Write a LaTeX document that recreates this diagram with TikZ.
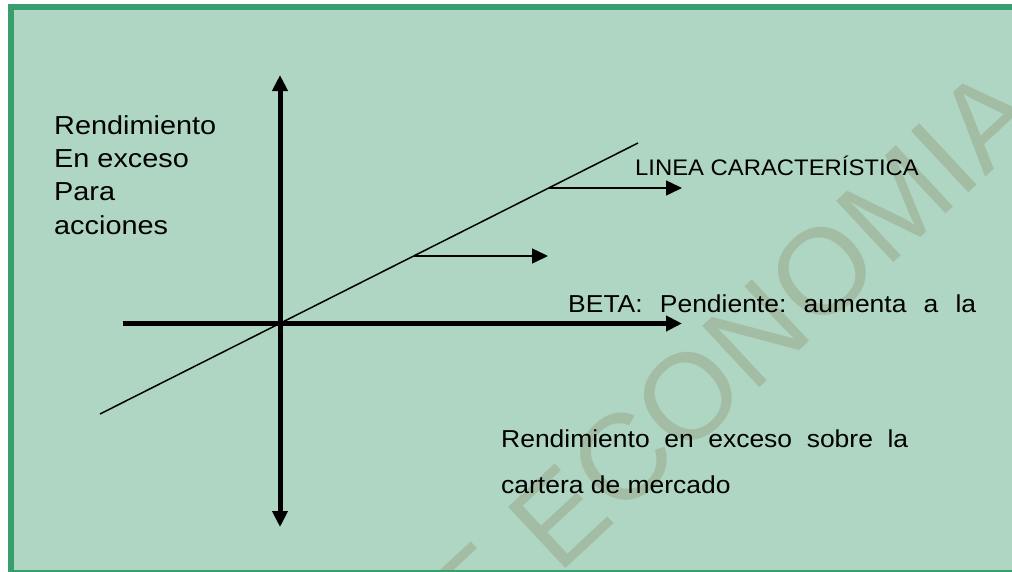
\documentclass[tikz,border=0pt]{standalone}
\usepackage{fontspec}
\usepackage{graphicx}
\setmainfont{Liberation Sans}
\usetikzlibrary{arrows.meta}
\definecolor{bgfill}{RGB}{175,214,195}
\definecolor{framecol}{RGB}{56,158,110}
\definecolor{wmcol}{RGB}{163,189,165}
\tikzset{
  axis/.style={line width=5pt, -{Triangle[length=16pt,width=15pt]}},
  axisboth/.style={line width=5pt, {Triangle[length=16pt,width=15pt]}-{Triangle[length=16pt,width=15pt]}},
  thinarrow/.style={line width=1.5pt, -{Triangle[length=16pt,width=15pt]}},
  charline/.style={line width=1.5pt},
  lbl/.style={inner sep=0pt, anchor=base west, text=black},
  wmark/.style={inner sep=0pt, text=wmcol, font=\fontsize{122}{130}\selectfont}
}
\newcommand\bigtxt[1]{\fontsize{26}{30}\selectfont\scalebox{1.11}[1]{#1}}
\newcommand\midtxt[1]{\fontsize{24.5}{29}\selectfont\scalebox{1.08}[1]{#1}}
\frenchspacing
\begin{document}
\begin{tikzpicture}[x=1pt,y=-1pt]
\useasboundingbox (0,0) rectangle (1012,571);
% background frame
\fill[bgfill] (8.3,4) rectangle (1030,580);
\draw[framecol, line width=6pt] (11.3,7) rectangle (1025,572.5);
% watermark
\begin{scope}
  \clip (14.3,10) rectangle (1012,569.3);
  \node[wmark, rotate=43] (wm) at (731,357) {E ECONOMIA};
\end{scope}
% coordinates
\coordinate (ytop) at (280,75);
\coordinate (ybot) at (280,527);
\coordinate (xl) at (123,323.5);
\coordinate (xr) at (682,323.5);
\coordinate (cl) at (100,414);
\coordinate (ch) at (638,143);
\coordinate (a1s) at (549,188);
\coordinate (a1e) at (682,188);
\coordinate (a2s) at (414,256);
\coordinate (a2e) at (548,256);
% axes
\draw[axisboth] (ybot) -- (ytop);
\draw[axis] (xl) -- (xr);
% characteristic line
\draw[charline] (cl) -- (ch);
\draw[thinarrow] (a1s) -- (a1e);
\draw[thinarrow] (a2s) -- (a2e);
% labels
\node[lbl] (l1) at (54,134) {\bigtxt{Rendimiento}};
\node[lbl] (l2) at (54,167.3) {\bigtxt{En exceso}};
\node[lbl] (l3) at (54,200.7) {\bigtxt{Para}};
\node[lbl] (l4) at (54,234) {\bigtxt{acciones}};
\node[lbl] (lc) at (635,175) {\fontsize{22.5}{27}\selectfont\scalebox{1.06}[1]{LINEA CARACTERÍSTICA}};
\node[lbl] (beta) at (568,312) {\midtxt{\makebox[377.8pt][s]{BETA: Pendiente: aumenta a la}}};
\node[lbl] (r1) at (501,447) {\midtxt{\makebox[376.9pt][s]{Rendimiento en exceso sobre la}}};
\node[lbl] (r2) at (501,493) {\midtxt{cartera de mercado}};
\end{tikzpicture}
\end{document}
